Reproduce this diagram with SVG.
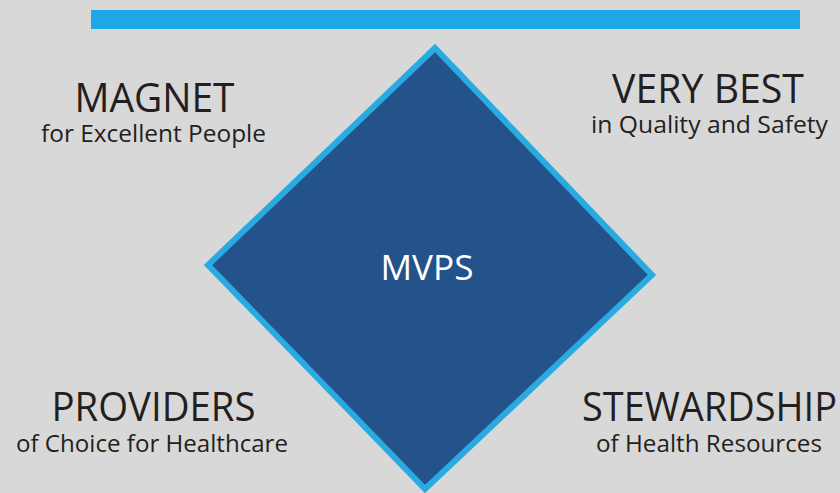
<svg xmlns="http://www.w3.org/2000/svg" width="840" height="493" viewBox="0 0 840 493">
<style>
.t{font-family:"Open Sans","Liberation Sans",sans-serif;fill:#231f20;text-anchor:middle}
.h{font-size:40px}
.s{font-size:23px}
.c{font-family:"Open Sans","Liberation Sans",sans-serif;fill:#ffffff;text-anchor:middle;font-size:35px}
</style>
<rect x="0" y="0" width="840" height="493" fill="#d9d8d9"/>
<rect id="bar" x="91" y="10" width="709" height="19" fill="#1ea8e8"/>
<g id="center">
<polygon points="435,48 652,275 425,489 208,265" fill="#24528a" stroke="#29abe2" stroke-width="6" stroke-linejoin="miter"/>
<text class="c" x="427" y="280" textLength="93" lengthAdjust="spacingAndGlyphs">MVPS</text>
</g>
<g id="magnet">
<text class="t h" x="154.5" y="112" textLength="160" lengthAdjust="spacingAndGlyphs">MAGNET</text>
<text class="t s" x="153.5" y="142" textLength="225" lengthAdjust="spacingAndGlyphs">for Excellent People</text>
</g>
<g id="verybest">
<text class="t h" x="708" y="103" textLength="192" lengthAdjust="spacingAndGlyphs">VERY BEST</text>
<text class="t s" x="709.5" y="133" textLength="237" lengthAdjust="spacingAndGlyphs">in Quality and Safety</text>
</g>
<g id="providers">
<text class="t h" x="153.5" y="421" textLength="204" lengthAdjust="spacingAndGlyphs">PROVIDERS</text>
<text class="t s" x="152" y="452" textLength="272" lengthAdjust="spacingAndGlyphs">of Choice for Healthcare</text>
</g>
<g id="stewardship">
<text class="t h" x="709.5" y="421" textLength="255" lengthAdjust="spacingAndGlyphs">STEWARDSHIP</text>
<text class="t s" x="709" y="452" textLength="226" lengthAdjust="spacingAndGlyphs">of Health Resources</text>
</g>
<g id="connectors"></g>
</svg>
